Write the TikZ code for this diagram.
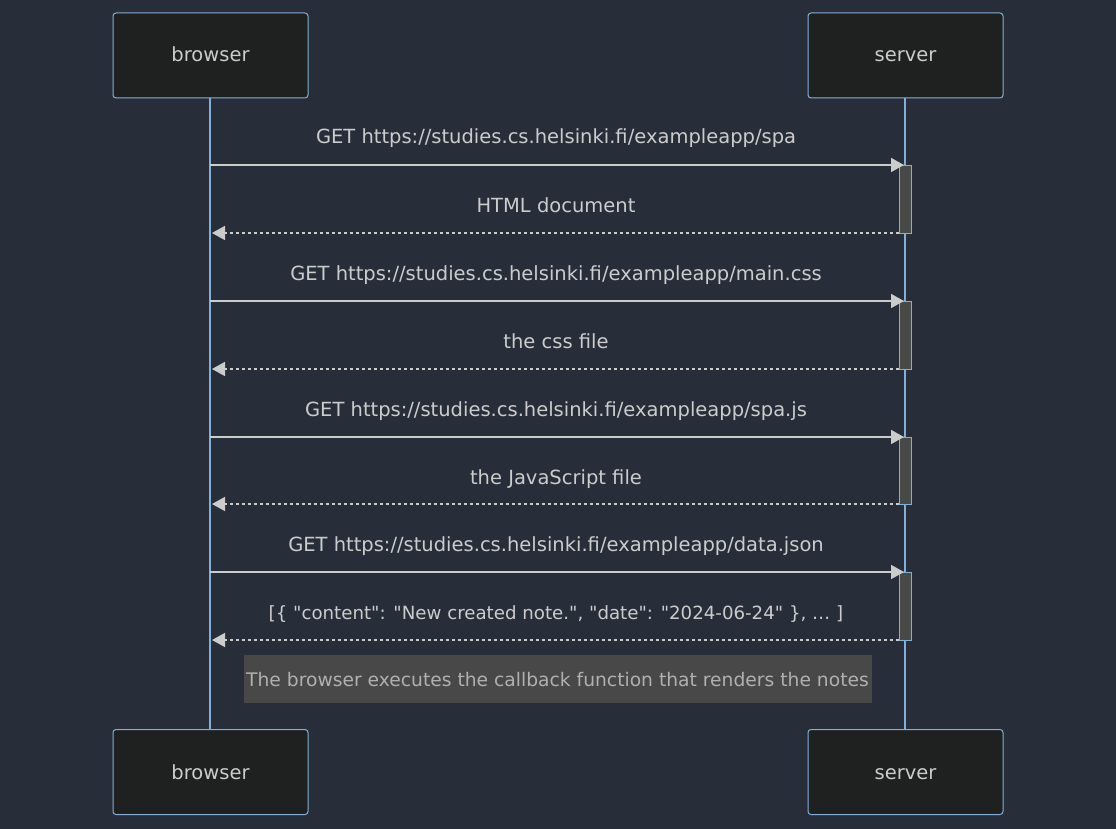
\documentclass[tikz,border=0pt]{standalone}
\usepackage{fontspec}
\setmainfont{DejaVu Sans}[Ligatures=TeXOff]
\usetikzlibrary{arrows.meta}
\definecolor{bg}{RGB}{40,45,58}
\definecolor{actfill}{RGB}{31,32,32}
\definecolor{lineblue}{RGB}{129,177,219}
\definecolor{msg}{RGB}{204,204,204}
\definecolor{actv}{RGB}{72,74,72}
\definecolor{notefill}{RGB}{72,72,72}
\definecolor{notetext}{RGB}{176,176,176}
\tikzset{
  x=1pt,y=-1pt,
  actor/.style={draw=lineblue,fill=actfill,rounded corners=3pt,line width=1pt,minimum width=195pt,minimum height=85pt,inner sep=0pt},
  atext/.style={text=msg,font=\fontsize{19.5}{22}\selectfont,inner sep=0pt,anchor=base},
  life/.style={draw=lineblue,line width=1.8pt},
  activ/.style={draw=lineblue,fill=actv,line width=1pt,minimum width=12pt,inner sep=0pt},
  req/.style={draw=msg,line width=1.6pt,-{Triangle[length=13pt,width=14pt]}},
  resp/.style={draw=msg,line width=1.6pt,dash pattern=on 3pt off 3pt,-{Triangle[length=13pt,width=14pt]}},
  lbl/.style={text=msg,font=\fontsize{19.5}{22}\selectfont,inner sep=0pt,anchor=base},
}
\begin{document}
\begin{tikzpicture}
\path[fill=bg] (0,0) rectangle (1116,829);
\useasboundingbox (0,0) rectangle (1116,829);
% lifelines
\coordinate (bl) at (210,98);
\coordinate (sl) at (905,98);
\coordinate (blb) at (210,730);
\coordinate (slb) at (905,730);
\draw[life] (bl) -- (blb);
\draw[life] (sl) -- (slb);
% actors
\node[actor] (b1) at (210.5,55.5) {};
\node[actor] (s1) at (905.5,55.5) {};
\node[actor] (b2) at (210.5,772) {};
\node[actor] (s2) at (905.5,772) {};
\node[atext] (b1t) at (210.5,62) {browser};
\node[atext] (s1t) at (905.5,62) {server};
\node[atext] (b2t) at (210.5,779) {browser};
\node[atext] (s2t) at (905.5,779) {server};
% activations
\foreach \n/\ya/\yb in {a1/166/233,a2/301/369,a3/437/504,a4/572/640}{
  \node[activ,minimum height={\yb-\ya}] (\n) at (905,{(\ya+\yb)/2}) {};
}
% messages
\foreach \y/\n in {165/m1,301/m2,437/m3,572/m4}{
  \coordinate (\n s) at (210,\y);
  \coordinate (\n e) at (904,\y);
  \draw[req] (\n s) -- (\n e);
}
\foreach \y/\n in {233/r1,369/r2,504/r3,640/r4}{
  \coordinate (\n s) at (899,\y);
  \coordinate (\n e) at (212,\y);
  \draw[resp] (\n s) -- (\n e);
}
\node[lbl] (t1) at (556,144) {GET https://studies.cs.helsinki.fi/exampleapp/spa};
\node[lbl] (t2) at (556,212) {HTML document};
\node[lbl] (t3) at (556,280) {GET https://studies.cs.helsinki.fi/exampleapp/main.css};
\node[lbl] (t4) at (556,348) {the css file};
\node[lbl] (t5) at (556,416) {GET https://studies.cs.helsinki.fi/exampleapp/spa.js};
\node[lbl] (t6) at (556,484) {the JavaScript file};
\node[lbl] (t7) at (556,551) {GET https://studies.cs.helsinki.fi/exampleapp/data.json};
\node[lbl,font=\fontsize{18.2}{22}\selectfont] (t8) at (556,619) {[\{ "content": "New created note.", "date": "2024-06-24" \}, … ]};
% note
\node[fill=notefill,draw=notefill,minimum width=627pt,minimum height=47pt,inner sep=0pt] (note) at (557.5,678.5) {};
\node[lbl,text=notetext,font=\fontsize{18.7}{22}\selectfont] (notet) at (557.5,686) {The browser executes the callback function that renders the notes};
\end{tikzpicture}
\end{document}
